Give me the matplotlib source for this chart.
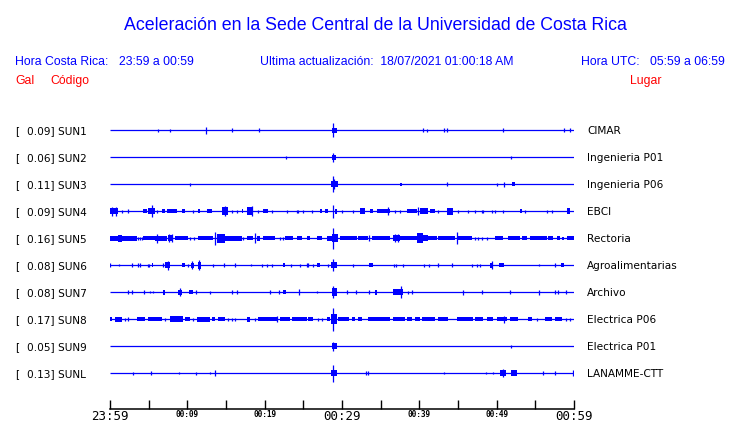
import matplotlib
matplotlib.use('Agg')
import matplotlib.pyplot as plt
from matplotlib import transforms

# ---------------- data ----------------
title = "Aceleración en la Sede Central de la Universidad de Costa Rica"
hora_cr = "23:59 a 00:59"
hora_utc = "05:59 a 06:59"
actualizacion = "18/07/2021 01:00:18 AM"

codes = ["SUN1", "SUN2", "SUN3", "SUN4", "SUN5", "SUN6", "SUN7", "SUN8", "SUN9", "SUNL"]
gal = ["0.09", "0.06", "0.11", "0.09", "0.16", "0.08", "0.08", "0.17", "0.05", "0.13"]
places = ["CIMAR", "Ingenieria P01", "Ingenieria P06", "EBCI", "Rectoria",
          "Agroalimentarias", "Archivo", "Electrica P06", "Electrica P01", "LANAMME-CTT"]

tick_minutes = [0, 10, 20, 30, 40, 50, 60]
tick_labels = ["23:59", "00:09", "00:19", "00:29", "00:39", "00:49", "00:59"]
big_labels = ["23:59", "00:29", "00:59"]

# events per station: (start minute, end minute, half amplitude); start == end -> single spike
ev_sun1 = [(6.25, 6.25, 1.5), (7.80, 7.80, 1.5), (12.41, 12.41, 3.5), (15.74, 15.74, 2),
           (19.27, 19.27, 2), (28.67, 29.39, 2.5), (28.88, 28.88, 7), (40.43, 40.43, 2),
           (41.04, 41.04, 1.5), (43.2, 43.2, 2), (43.6, 43.6, 2), (50.8, 50.8, 2),
           (58.7, 58.7, 2), (59.45, 59.45, 2)]
ev_sun2 = [(22.7, 22.7, 1.5), (28.75, 29.2, 2.5), (28.88, 28.88, 4.5), (51.9, 51.9, 1.5)]
ev_sun3 = [(10.4, 10.4, 1.5), (28.6, 29.5, 3), (28.88, 28.88, 8), (29.0, 29.0, 5),
           (37.55, 37.7, 1.5), (43.6, 43.6, 2), (50.0, 50.0, 1.5), (51.0, 51.0, 2.5),
           (52.0, 52.4, 2)]
ev_sun4 = [(0.0, 1.07, 3), (0.30, 0.30, 4.5), (0.74, 0.74, 4.5), (1.51, 1.51, 1.5),
           (2.37, 2.37, 2), (4.31, 4.75, 2), (4.95, 5.82, 3), (5.47, 5.47, 6),
           (6.12, 6.12, 1.5), (6.69, 7.11, 2), (7.33, 8.62, 2), (9.27, 9.70, 2),
           (10.77, 10.77, 1.5), (11.42, 11.64, 2), (12.50, 13.15, 2), (14.44, 15.30, 4),
           (14.87, 14.87, 5), (15.74, 15.74, 1.5), (16.38, 16.38, 1.5), (17.03, 17.24, 2),
           (17.68, 18.53, 4), (18.32, 18.32, 5), (19.18, 19.18, 1.5), (19.82, 20.47, 2),
           (20.91, 20.91, 1.5), (22.85, 22.85, 1.5), (24.14, 24.14, 1.5), (24.35, 24.35, 1.5),
           (25.0, 25.0, 1.5), (26.08, 26.08, 1.5), (27.16, 27.38, 2), (27.80, 28.23, 2),
           (28.88, 28.88, 6.5), (29.09, 29.39, 2.5), (29.96, 29.96, 1.5), (31.46, 31.46, 1.5),
           (32.33, 32.97, 3), (33.62, 34.05, 2), (34.48, 36.21, 2), (35.90, 35.90, 4),
           (36.85, 36.85, 1.5), (37.5, 37.5, 1.5), (38.37, 39.66, 2), (39.87, 39.87, 4),
           (40.09, 41.16, 3), (41.38, 42.03, 2), (42.45, 42.45, 1.5), (43.54, 44.39, 3.5),
           (45.04, 45.04, 1.5), (46.33, 46.33, 1.5), (47.2, 47.2, 1.5), (48.06, 48.06, 1.5),
           (48.27, 48.27, 1.5), (49.36, 49.36, 1.5), (49.78, 49.78, 1.5), (50.86, 50.86, 1.5),
           (53.02, 53.24, 2), (53.66, 53.66, 1.5), (56.47, 56.47, 1.5), (57.12, 57.12, 1.5),
           (59.06, 59.48, 3)]
ev_sun5 = [(0.0, 3.45, 2.5), (1.07, 1.51, 3.5), (3.66, 3.66, 1.5), (3.88, 3.88, 1.5),
           (4.10, 4.10, 1.5), (4.31, 5.82, 2), (6.12, 6.12, 4.5), (5.82, 7.33, 2.5),
           (7.54, 8.19, 3), (7.6, 7.6, 4), (8.0, 8.0, 4), (8.41, 10.13, 2),
           (10.4, 10.4, 1.5), (10.8, 10.8, 1.5), (11.42, 13.36, 2), (13.58, 13.58, 6.5),
           (13.80, 14.87, 4.5), (14.87, 17.03, 2.5), (17.24, 17.24, 1.5), (17.68, 18.53, 2),
           (18.75, 18.75, 5), (18.97, 19.40, 2.5), (19.82, 21.34, 2), (21.98, 21.98, 1.5),
           (22.41, 22.41, 1.5), (22.63, 23.70, 2), (24.14, 24.79, 2), (25.44, 25.86, 2),
           (26.73, 27.38, 2), (28.02, 28.67, 2.5), (28.67, 29.52, 4), (28.88, 28.88, 10.5),
           (29.74, 31.90, 2), (32.11, 33.40, 2), (33.5, 33.5, 3), (33.84, 36.21, 2),
           (36.63, 37.5, 3), (36.8, 36.8, 4), (37.2, 37.2, 4), (37.5, 39.66, 2),
           (39.66, 40.51, 5), (40.51, 41.16, 3), (41.16, 42.25, 2), (42.45, 44.61, 2),
           (44.83, 44.83, 6), (45.04, 46.77, 2), (47.2, 47.2, 1.5), (47.62, 47.62, 1.5),
           (48.06, 48.06, 1.5), (48.71, 48.71, 1.5), (49.78, 50.86, 2), (51.50, 53.02, 2),
           (53.24, 53.88, 2), (54.31, 56.47, 2), (56.68, 57.33, 2), (57.76, 58.19, 2),
           (58.41, 58.71, 1.5), (59.06, 60.0, 2)]
ev_sun6 = [(0.0, 0.0, 2), (1.2, 1.2, 1), (2.81, 2.81, 2), (3.66, 3.66, 2), (3.88, 3.88, 2),
           (4.88, 4.88, 1.5), (5.08, 5.08, 1.5), (5.45, 5.6, 2), (6.89, 6.89, 2),
           (7.11, 7.76, 3), (7.46, 7.46, 4.5), (9.27, 9.70, 2), (10.05, 10.05, 1.5),
           (10.47, 10.90, 2.5), (10.6, 10.6, 4), (11.34, 11.77, 3.5), (11.5, 11.5, 5),
           (13.36, 13.36, 1.5), (14.74, 14.74, 2), (16.16, 16.16, 2), (18.19, 18.19, 1),
           (19.62, 19.62, 1.5), (20.34, 20.34, 1.5), (20.99, 20.99, 1.5), (22.41, 22.63, 2),
           (23.37, 23.37, 1.5), (24.57, 24.57, 1.5), (25.44, 25.44, 2), (25.64, 25.64, 2),
           (26.29, 26.29, 1.5), (26.73, 27.16, 2), (28.23, 28.23, 1.5), (28.54, 29.31, 3),
           (28.88, 28.88, 6), (31.46, 31.46, 1.5), (33.53, 34.05, 2), (36.72, 36.72, 1.5),
           (36.98, 36.98, 1.5), (37.85, 37.85, 1.5), (40.64, 40.64, 1.5), (41.29, 41.29, 1.5),
           (42.45, 42.45, 2), (44.19, 44.19, 2), (46.77, 46.77, 1.5), (47.5, 47.5, 1.5),
           (47.84, 47.84, 1.5), (49.2, 49.5, 2.5), (49.36, 49.36, 4), (50.34, 50.95, 2),
           (55.51, 55.51, 1), (57.54, 57.54, 2), (58.28, 58.71, 2)]
ev_sun7 = [(2.29, 2.29, 2), (2.81, 2.81, 2), (4.44, 4.44, 2), (5.17, 5.17, 1), (5.52, 5.52, 1),
           (6.81, 7.11, 2.5), (8.83, 9.27, 2.5), (9.05, 9.05, 4), (10.25, 10.69, 2),
           (11.12, 11.12, 2), (12.97, 12.97, 1.5), (15.74, 15.74, 2), (16.38, 16.38, 2),
           (20.69, 20.69, 2), (21.89, 21.89, 2), (22.33, 22.76, 2), (24.48, 24.48, 3),
           (26.73, 26.73, 1), (28.67, 29.39, 4), (28.88, 28.88, 6), (30.69, 30.69, 2),
           (31.81, 31.81, 2), (33.53, 33.53, 2), (34.27, 34.56, 2.5), (36.63, 37.93, 3),
           (37.59, 37.59, 6), (38.57, 38.57, 1.5), (39.01, 39.01, 2), (45.61, 45.61, 2.5),
           (48.06, 48.06, 2), (51.72, 51.72, 2), (55.51, 55.51, 2.5), (57.54, 57.54, 2),
           (57.97, 57.97, 2), (58.97, 58.97, 2)]
ev_sun8 = [(0.0, 0.22, 2), (0.65, 1.51, 2.5), (1.94, 1.94, 1.5), (2.37, 2.37, 2),
           (3.53, 4.53, 2), (4.95, 6.69, 2), (7.11, 7.11, 1.5), (7.76, 9.48, 3),
           (9.70, 10.34, 2), (10.77, 10.77, 1.5), (11.21, 12.93, 2.5), (13.15, 13.58, 2),
           (14.0, 14.87, 2), (15.30, 15.30, 1.5), (15.74, 15.74, 1.5), (16.16, 16.16, 1.5),
           (17.68, 18.10, 2.5), (18.75, 18.75, 1.5), (19.18, 21.56, 2), (21.56, 21.56, 3),
           (21.98, 23.28, 2), (23.50, 25.44, 2), (25.64, 26.29, 2), (26.94, 26.94, 1.5),
           (27.38, 27.38, 1.5), (28.02, 28.45, 2), (28.54, 29.39, 5), (28.88, 28.88, 11.5),
           (29.52, 30.94, 2), (31.25, 31.68, 2), (32.11, 32.54, 2), (33.40, 36.21, 2),
           (36.63, 38.15, 2), (38.37, 39.01, 2), (39.44, 40.09, 2), (40.31, 42.03, 2),
           (42.45, 43.75, 2), (44.83, 46.98, 2), (47.2, 48.27, 2), (48.71, 49.57, 2),
           (50.0, 51.30, 2), (50.95, 50.95, 3.5), (51.72, 52.80, 2), (54.09, 54.53, 2),
           (55.18, 55.18, 1.5), (56.25, 57.12, 2), (57.54, 58.41, 2), (58.97, 58.97, 1.5),
           (59.48, 59.48, 1.5)]
ev_sun9 = [(28.67, 29.31, 3), (28.88, 28.88, 4.5), (51.9, 51.9, 1.5)]
ev_sunl = [(3.01, 3.01, 1.5), (5.30, 5.30, 2), (8.88, 8.88, 1), (11.16, 11.16, 1.5),
           (12.97, 12.97, 1), (13.62, 13.62, 3), (28.6, 29.39, 3), (28.88, 28.88, 8.5),
           (33.06, 33.06, 2), (33.40, 33.40, 2), (43.23, 43.23, 1), (48.66, 48.66, 1),
           (49.57, 49.57, 1), (50.43, 51.21, 3), (50.8, 50.8, 4), (51.89, 52.59, 3),
           (56.03, 56.03, 2), (57.54, 57.54, 2), (59.91, 59.91, 3)]
events = [ev_sun1, ev_sun2, ev_sun3, ev_sun4, ev_sun5, ev_sun6, ev_sun7, ev_sun8, ev_sun9, ev_sunl]

# ---------------- style / layout ----------------
BLUE = "#0000FF"
RED = "#FF0000"
W, H = 740, 423
ROW = 27.0           # pixel spacing of traces
AMP = 1.0 / ROW      # amplitude units -> row units

fig = plt.figure(figsize=(W / 100, H / 100), dpi=100)
fig.patch.set_facecolor("white")


def fx(x):
    return x / W


def fy(y):
    return 1 - y / H


ax_top, ax_bot, first_row = 115.0, 409.0, 130.3
ax = fig.add_axes([fx(110), fy(ax_bot), 464 / W, (ax_bot - ax_top) / H])
ax.set_xlim(0, 60)
ax.set_ylim((ax_bot - first_row) / ROW, (ax_top - first_row) / ROW)
for s in ["top", "left", "right"]:
    ax.spines[s].set_visible(False)
ax.spines["bottom"].set_linewidth(1.1)
ax.set_yticks([])
ax.patch.set_alpha(0)

for i, ev in enumerate(events):
    y0 = i
    ax.plot([0, 60], [y0, y0], color=BLUE, lw=0.9, solid_capstyle="butt")
    for s, e, a in ev:
        h = a * AMP
        if e <= s:
            ax.vlines(s, y0 - h, y0 + h, color=BLUE, lw=0.9)
        else:
            ax.fill_between([s, e], y0 - h, y0 + h, color=BLUE, lw=0)

# x axis ticks
ax.set_xticks(list(range(0, 61, 5)), minor=False)
ax.set_xticklabels([""] * 13)
ax.tick_params(axis="x", direction="in", length=6.2, width=1.0, color="black", pad=1.5)
lbl_tr = transforms.blended_transform_factory(ax.transData, ax.transAxes)
for m, lab in zip(tick_minutes, tick_labels):
    big = lab in big_labels
    ax.text(m, -0.005, lab, transform=lbl_tr, ha="center", va="top",
            family="DejaVu Sans Mono", fontsize=9.0 if big else 5.6,
            fontweight="normal" if big else "bold", color="black")

# station labels
row_tr = transforms.blended_transform_factory(fig.transFigure, ax.transData)
for i, (g, c, p) in enumerate(zip(gal, codes, places)):
    yb = i + 4.0 / ROW
    kw = dict(transform=row_tr, va="baseline", fontsize=7.6, family="DejaVu Sans", color="black")
    ax.text(fx(15), yb, "[", ha="left", **kw)
    ax.text(fx(27.3), yb, f"{g}] {c}", ha="left", **kw)
    ax.text(fx(587), yb, p, ha="left", **kw)

# header
hf = "Liberation Sans"
fig.text(fx(375), fy(30), title, ha="center", va="baseline", family=hf, fontsize=12.8, color=BLUE)
fig.text(fx(15), fy(65), "Hora Costa Rica:", ha="left", va="baseline", family=hf, fontsize=8.8, color=BLUE)
fig.text(fx(119.3), fy(65), hora_cr, ha="left", va="baseline", family=hf, fontsize=8.8, color=BLUE)
fig.text(fx(260), fy(65), "Ultima actualización:  " + actualizacion, ha="left", va="baseline",
         family=hf, fontsize=8.8, color=BLUE)
fig.text(fx(580.7), fy(65), "Hora UTC:", ha="left", va="baseline", family=hf, fontsize=8.8, color=BLUE)
fig.text(fx(650), fy(65), hora_utc, ha="left", va="baseline", family=hf, fontsize=8.8, color=BLUE)
fig.text(fx(15), fy(84), "Gal", ha="left", va="baseline", family=hf, fontsize=8.8, color=RED)
fig.text(fx(50), fy(84), "Código", ha="left", va="baseline", family=hf, fontsize=8.8, color=RED)
fig.text(fx(630), fy(84), "Lugar", ha="left", va="baseline", family=hf, fontsize=8.8, color=RED)

fig.savefig("out.png", dpi=100, facecolor="white")
